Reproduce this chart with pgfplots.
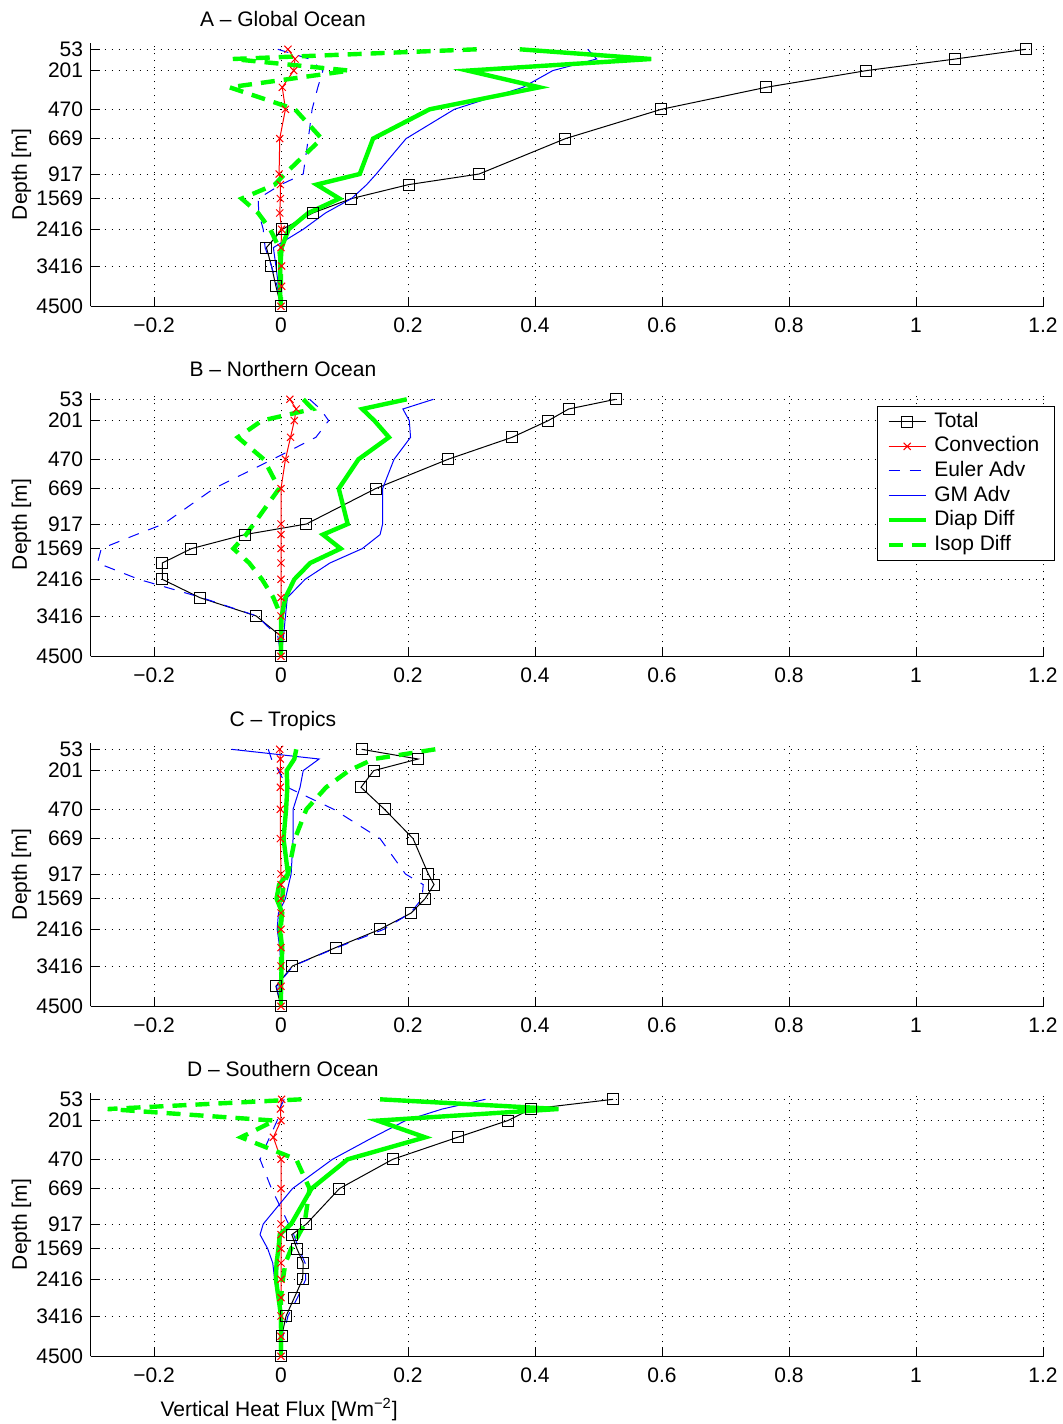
\documentclass[border=0pt]{standalone}
\usepackage{fontspec}
\setmainfont{Liberation Sans}
\usepackage{pgfplots}
\usepackage{pgfplotstable}
\pgfplotsset{compat=1.18}

% Vertical heat flux profiles [W m^-2] on the 15 model levels.
% Column s is the plotting position of each level (stretched depth axis:
% 0 = 53 m, -257 = 4500 m).
\pgfplotstableread{
s       total   conv    euler   gm      diap    isop
0       1.173   0.011  -0.005   0.483   0.376   0.308
-9.7    1.062   0.022   0.045   0.497   0.583  -0.076
-21.3   0.922   0.020   0.066   0.428   0.294   0.108
-38     0.764   0.002   0.058   0.381   0.407  -0.081
-60     0.599   0.007   0.049   0.273   0.234   0.022
-89.3   0.448  -0.002   0.043   0.197   0.145   0.064
-124.7  0.312  -0.003   0.035   0.150   0.124   0.006
-135.3  0.201  -0.001   0.000   0.135   0.056  -0.010
-149.3  0.111  -0.001  -0.036   0.111   0.092  -0.062
-163.7  0.050  -0.002  -0.035   0.070   0.043  -0.036
-180    0.002   0.001  -0.028   0.035   0.012  -0.017
-198.3 -0.023   0.000  -0.025  -0.012   0.001  -0.003
-216.7 -0.015   0.001  -0.015  -0.008  -0.001   0.000
-237   -0.008   0.001  -0.006  -0.004  -0.002   0.000
-257    0.000   0.000   0.000   0.000   0.000   0.000
}\globalocean

\pgfplotstableread{
s       total   conv    euler   gm      diap    isop
0       0.527   0.014   0.045   0.240   0.198   0.035
-9.7    0.453   0.024   0.062   0.192   0.128   0.050
-21.3   0.421   0.021   0.075   0.202   0.147  -0.030
-38     0.364   0.015   0.055   0.204   0.170  -0.068
-60     0.263   0.007  -0.013   0.178   0.122  -0.027
-89.3   0.149   0.000  -0.106   0.160   0.091  -0.003
-124.7  0.040   0.000  -0.185   0.160   0.105  -0.043
-135.3 -0.057   0.000  -0.228   0.156   0.066  -0.055
-149.3 -0.141   0.000  -0.283   0.128   0.094  -0.075
-163.7 -0.187   0.000  -0.289   0.077   0.046  -0.050
-180   -0.187   0.000  -0.224   0.038   0.021  -0.030
-198.3 -0.128   0.000  -0.125   0.010   0.007  -0.012
-216.7 -0.039   0.000  -0.038   0.007   0.001   0.000
-237    0.000   0.000  -0.005   0.004   0.000   0.000
-257    0.000   0.000   0.000   0.000   0.000   0.000
}\northernocean

\pgfplotstableread{
s       total   conv    euler   gm      diap    isop
0       0.127  -0.002  -0.020  -0.078   0.024   0.243
-9.7    0.216  -0.001  -0.015   0.060   0.021   0.146
-21.3   0.146  -0.001  -0.004   0.035   0.009   0.107
-38     0.126  -0.001   0.010   0.030   0.010   0.071
-60     0.163  -0.001   0.083   0.019   0.008   0.040
-89.3   0.208  -0.001   0.156   0.019   0.004   0.022
-124.7  0.232   0.000   0.196   0.016   0.011   0.011
-135.3  0.241   0.000   0.224   0.012  -0.003   0.004
-149.3  0.227   0.000   0.222   0.007  -0.007   0.002
-163.7  0.205   0.000   0.204  -0.004   0.002   0.001
-180    0.156   0.000   0.162  -0.006  -0.002   0.000
-198.3  0.086   0.000   0.088  -0.002   0.002   0.000
-216.7  0.018   0.000   0.019   0.000   0.001   0.000
-237   -0.008   0.000  -0.007  -0.003   0.000   0.000
-257    0.000   0.000   0.000   0.000   0.000   0.000
}\tropics

\pgfplotstableread{
s       total   conv    euler   gm      diap    isop
0       0.523   0.001   0.005   0.322   0.156   0.032
-9.7    0.394  -0.001  -0.002   0.254   0.437  -0.273
-21.3   0.357   0.000  -0.006   0.196   0.152  -0.010
-38     0.278  -0.012  -0.018   0.145   0.227  -0.063
-60     0.176   0.000  -0.033   0.081   0.105   0.024
-89.3   0.092   0.000  -0.015   0.018   0.048   0.045
-124.7  0.040   0.000   0.012  -0.028   0.016   0.037
-135.3  0.017   0.000   0.020  -0.033  -0.002   0.028
-149.3  0.025   0.000   0.028  -0.021  -0.004   0.016
-163.7  0.035   0.000   0.038  -0.013  -0.007   0.007
-180    0.034   0.000   0.039  -0.010  -0.008   0.003
-198.3  0.021   0.000   0.026  -0.006  -0.004   0.000
-216.7  0.008   0.000   0.011   0.000   0.000   0.000
-237    0.001   0.000   0.003   0.002   0.000   0.000
-257    0.000   0.000   0.000   0.000   0.000   0.000
}\southernocean

\pgfplotsset{
  fluxpanel/.style={
    scale only axis,
    width=476.25pt, height=131.75pt,
    xmin=-0.3, xmax=1.2, ymin=-257, ymax=6.5,
    axis x line*=bottom, axis y line*=left,
    axis line style={black, line width=0.5pt},
    xtick={-0.2,0,0.2,0.4,0.6,0.8,1,1.2},
    xticklabels={−0.2,0,0.2,0.4,0.6,0.8,1,1.2},
    ytick={-257,-216.7,-180,-149.3,-124.7,-89.3,-60,-21.3,0},
    yticklabels={4500,3416,2416,1569,917,669,470,201,53},
    xticklabel style={anchor=base, yshift=-13pt},
    grid=major,
    major grid style={black, line width=0.45pt, dash pattern=on 0.6pt off 2.9pt},
    tick style={black, line width=0.5pt},
    major tick length=4.75pt,
    tick align=inside,
    ylabel={Depth [m]},
    ylabel style={at={(axis description cs:-0.0667,0.5)}, anchor=base},
    title style={at={(axis description cs:0.202,1)}, anchor=base, yshift=2pt},
    clip=false,
    legend image code/.code={
      \draw[mark repeat=2, mark phase=2, ##1]
        plot coordinates {(0pt,0pt) (9.25pt,0pt) (18.5pt,0pt)};
    },
  },
  total/.style={black, line width=0.5pt, mark=square, mark size=2.75pt},
  convection/.style={red, line width=0.5pt, mark=x, mark size=2.5pt},
  euleradv/.style={blue, line width=0.5pt, dash pattern=on 5.5pt off 5pt},
  gmadv/.style={blue, line width=0.5pt},
  diapdiff/.style={green, line width=2.2pt},
  isopdiff/.style={green, line width=2.2pt, dash pattern=on 7pt off 4.5pt},
}

\begin{document}
\fontsize{10.5pt}{12.6pt}\selectfont
\begin{tikzpicture}
\path[use as bounding box] (0,0) rectangle (531.5pt,-712pt);

% A: global ocean
\begin{axis}[fluxpanel, at={(45.25pt,-21.4pt)}, anchor=north west,
  title={A – Global Ocean}]
  \addplot[total]      table[x=total, y=s] {\globalocean};
  \addplot[convection] table[x=conv,  y=s] {\globalocean};
  \addplot[euleradv]   table[x=euler, y=s] {\globalocean};
  \addplot[gmadv]      table[x=gm,    y=s] {\globalocean};
  \addplot[diapdiff]   table[x=diap,  y=s] {\globalocean};
  \addplot[isopdiff]   table[x=isop,  y=s] {\globalocean};
\end{axis}

% B: northern ocean, carries the legend
\begin{axis}[fluxpanel, at={(45.25pt,-196.4pt)}, anchor=north west,
  title={B – Northern Ocean},
  legend style={at={(axis description cs:0.8257,0.95)}, anchor=north west,
    draw=black, line width=0.5pt, fill=white, inner xsep=4.5pt, inner ysep=1.5pt,
    row sep=0pt, cells={anchor=west},
    nodes={inner ysep=1pt, inner xsep=3.2pt, text height=7.9pt, text depth=2.4pt}},
  legend cell align=left]
  \addplot[total]      table[x=total, y=s] {\northernocean};
  \addlegendentry{Total}
  \addplot[convection] table[x=conv,  y=s] {\northernocean};
  \addlegendentry{Convection}
  \addplot[euleradv]   table[x=euler, y=s] {\northernocean};
  \addlegendentry{Euler Adv}
  \addplot[gmadv]      table[x=gm,    y=s] {\northernocean};
  \addlegendentry{GM Adv}
  \addplot[diapdiff]   table[x=diap,  y=s] {\northernocean};
  \addlegendentry{Diap Diff}
  \addplot[isopdiff]   table[x=isop,  y=s] {\northernocean};
  \addlegendentry{Isop Diff}
\end{axis}

% C: tropics
\begin{axis}[fluxpanel, at={(45.25pt,-371.4pt)}, anchor=north west,
  title={C – Tropics}]
  \addplot[total]      table[x=total, y=s] {\tropics};
  \addplot[convection] table[x=conv,  y=s] {\tropics};
  \addplot[euleradv]   table[x=euler, y=s] {\tropics};
  \addplot[gmadv]      table[x=gm,    y=s] {\tropics};
  \addplot[diapdiff]   table[x=diap,  y=s] {\tropics};
  \addplot[isopdiff]   table[x=isop,  y=s] {\tropics};
\end{axis}

% D: southern ocean
\begin{axis}[fluxpanel, at={(45.25pt,-546.4pt)}, anchor=north west,
  title={D – Southern Ocean},
  xlabel={Vertical Heat Flux [Wm\textsuperscript{−2}]},
  xlabel style={at={(axis description cs:0.198,0)}, anchor=base, yshift=-30pt}]
  \addplot[total]      table[x=total, y=s] {\southernocean};
  \addplot[convection] table[x=conv,  y=s] {\southernocean};
  \addplot[euleradv]   table[x=euler, y=s] {\southernocean};
  \addplot[gmadv]      table[x=gm,    y=s] {\southernocean};
  \addplot[diapdiff]   table[x=diap,  y=s] {\southernocean};
  \addplot[isopdiff]   table[x=isop,  y=s] {\southernocean};
\end{axis}
\end{tikzpicture}
\end{document}
